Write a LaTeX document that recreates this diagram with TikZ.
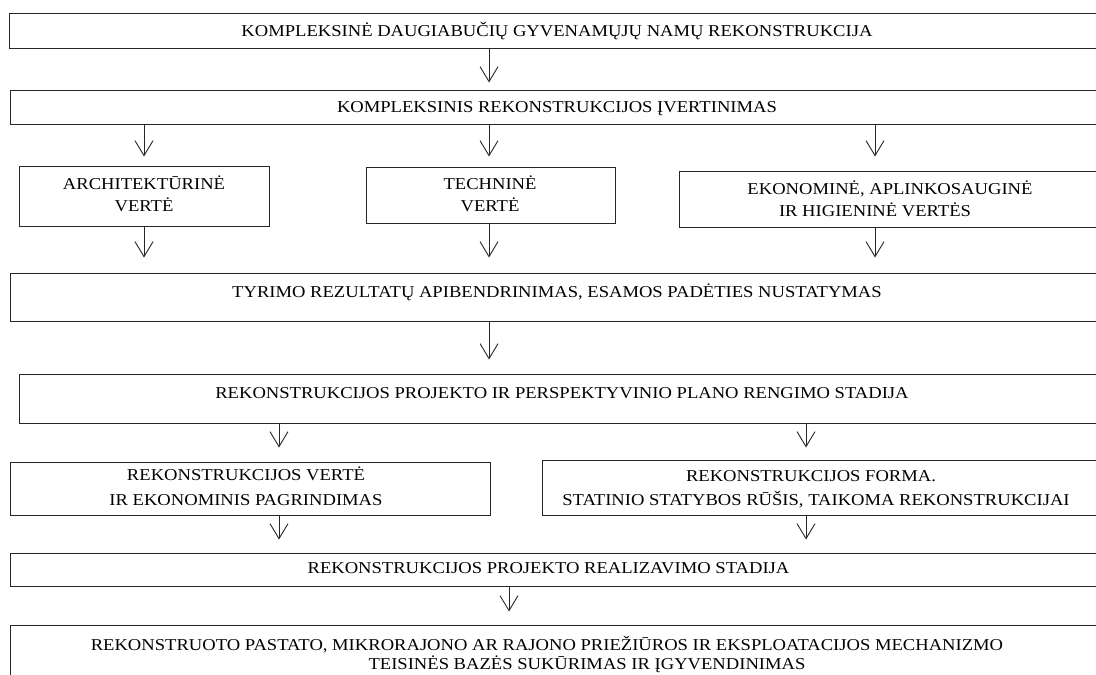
\documentclass[tikz,border=0pt]{standalone}
\usepackage{fontspec}
\setmainfont{Liberation Serif}[FakeStretch=1.12]
\usetikzlibrary{arrows.meta,fit}
\begin{document}
\begin{tikzpicture}[x=1pt,y=-1pt,
  box/.style={draw=black!85, line width=1pt, inner sep=0pt},
  txt/.style={inner sep=0pt, align=center, anchor=base, text height=11pt, text depth=0pt, font=\fontsize{16.6}{22}\selectfont},
  arr/.style={line width=0.9pt, draw=black!85, -{Straight Barb[length=15pt,width=18pt]}}]
\useasboundingbox (0,0) rectangle (1096,675);
\clip (0,0) rectangle (1096,675);
% boxes
\node[box, fit={(9.5,13.5) (1105,48)}] (b1) {};
\node[box, fit={(10.5,90) (1105,124)}] (b2) {};
\node[box, fit={(19,166) (269.5,226)}] (b3a) {};
\node[box, fit={(366,167) (615,223)}] (b3b) {};
\node[box, fit={(679,171) (1105,227)}] (b3c) {};
\node[box, fit={(10,273) (1105,321)}] (b4) {};
\node[box, fit={(19,374) (1106,423)}] (b5) {};
\node[box, fit={(10,462) (490.5,515)}] (b6a) {};
\node[box, fit={(542,460) (1105,515)}] (b6b) {};
\node[box, fit={(10,553) (1105,586)}] (b7) {};
\node[box, fit={(10,625) (1105,700)}] (b8) {};
% texts (multi-line nodes: base = baseline of last line)
\node[txt] (t1) at (557,36.5) {KOMPLEKSINĖ DAUGIABUČIŲ GYVENAMŲJŲ NAMŲ REKONSTRUKCIJA};
\node[txt] (t2) at (557,112.5) {KOMPLEKSINIS REKONSTRUKCIJOS ĮVERTINIMAS};
\node[txt] (t3a) at (144,211.5) {ARCHITEKTŪRINĖ\\VERTĖ};
\node[txt] (t3b) at (490,211.5) {TECHNINĖ\\VERTĖ};
\node[txt] (t3c) at (890,216.5) {EKONOMINĖ, APLINKOSAUGINĖ\\IR HIGIENINĖ VERTĖS\hspace*{30pt}};
\node[txt] (t4) at (557,297.5) {TYRIMO REZULTATŲ APIBENDRINIMAS, ESAMOS PADĖTIES NUSTATYMAS};
\node[txt] (t5) at (562,398.5) {REKONSTRUKCIJOS PROJEKTO IR PERSPEKTYVINIO PLANO RENGIMO STADIJA};
\node[txt, font=\fontsize{16.6}{25}\selectfont] (t6a) at (246,505.5) {REKONSTRUKCIJOS VERTĖ\\IR EKONOMINIS PAGRINDIMAS};
\node[txt, font=\fontsize{16.6}{24}\selectfont] (t6b) at (816,505) {REKONSTRUKCIJOS FORMA.\hspace*{10pt}\\STATINIO STATYBOS RŪŠIS, TAIKOMA REKONSTRUKCIJAI};
\node[txt] (t7) at (548.5,573.5) {REKONSTRUKCIJOS PROJEKTO REALIZAVIMO STADIJA};
\node[txt, font=\fontsize{16.6}{19}\selectfont] (t8) at (547,669.5) {REKONSTRUOTO PASTATO, MIKRORAJONO AR RAJONO PRIEŽIŪROS IR EKSPLOATACIJOS MECHANIZMO\\\hspace*{80pt}TEISINĖS BAZĖS SUKŪRIMAS IR ĮGYVENDINIMAS};
% arrow columns
\coordinate (xa) at (144,0);
\coordinate (xb) at (489,0);
\coordinate (xc) at (875,0);
\coordinate (xd) at (279,0);
\coordinate (xe) at (806,0);
\coordinate (xf) at (509,0);
% connectors
\draw[arr, shorten >=7pt] (b1.south -| xb) -- (b2.north -| xb);
\draw[arr, shorten >=9pt] (b2.south -| xa) -- (b3a.north -| xa);
\draw[arr, shorten >=10pt] (b2.south -| xb) -- (b3b.north -| xb);
\draw[arr, shorten >=14pt] (b2.south -| xc) -- (b3c.north -| xc);
\draw[arr, shorten >=15pt] (b3a.south -| xa) -- (b4.north -| xa);
\draw[arr, shorten >=15pt] (b3b.south -| xb) -- (b4.north -| xb);
\draw[arr, shorten >=15pt] (b3c.south -| xc) -- (b4.north -| xc);
\draw[arr, shorten >=14pt] (b4.south -| xb) -- (b5.north -| xb);
\draw[arr, shorten >=14pt] (b5.south -| xd) -- (b6a.north -| xd);
\draw[arr, shorten >=12pt] (b5.south -| xe) -- (b6b.north -| xe);
\draw[arr, shorten >=13pt] (b6a.south -| xd) -- (b7.north -| xd);
\draw[arr, shorten >=13pt] (b6b.south -| xe) -- (b7.north -| xe);
\draw[arr, shorten >=13pt] (b7.south -| xf) -- (b8.north -| xf);
\end{tikzpicture}
\end{document}
